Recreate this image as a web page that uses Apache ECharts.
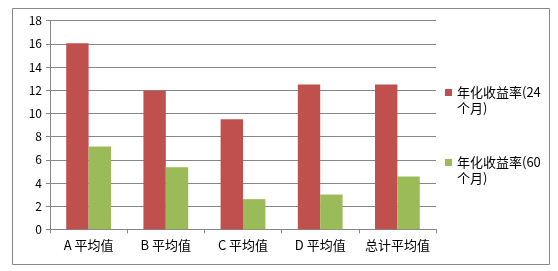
<!DOCTYPE html>
<html>
<head>
<meta charset="utf-8">
<script src="https://cdn.jsdelivr.net/npm/echarts@6/dist/echarts.min.js"></script>
<style>
html,body{margin:0;padding:0;background:#fff;}
#main{width:558px;height:271px;}
</style>
</head>
<body>
<div id="main"></div>
<script>
const categories = ['A 平均值', 'B 平均值', 'C 平均值', 'D 平均值', '总计平均值'];
const seriesNames = ['年化收益率(24个月)', '年化收益率(60个月)'];
const legendLabels = ['年化收益率(24\n个月)', '年化收益率(60\n个月)'];
const values24 = [16.05, 11.95, 9.5, 12.5, 12.5];
const values60 = [7.15, 5.35, 2.6, 3.0, 4.55];
const yTicks = { min: 0, max: 18, interval: 2 };

const font = '"Noto Sans CJK SC", "Noto Sans", sans-serif';
const chart = echarts.init(document.getElementById('main'), null, { renderer: 'canvas' });
const legendIcon = 'path://M0,0h7v7h-7z M0,23 L7,23';
chart.setOption({
  animation: false,
  backgroundColor: '#fff',
  textStyle: { fontFamily: font },
  graphic: [{
    type: 'rect',
    shape: { x: 12.5, y: 8.5, width: 537, height: 256 },
    style: { fill: 'none', stroke: '#868686', lineWidth: 1 },
    silent: true
  }],
  grid: { left: 50, right: 122, top: 20.7, bottom: 41.7, containLabel: false },
  legend: {
    orient: 'vertical',
    left: 445,
    top: 84.5,
    padding: 0,
    itemGap: 38,
    itemWidth: 7,
    itemHeight: 23,
    icon: legendIcon,
    data: seriesNames,
    formatter: function (name) { return legendLabels[seriesNames.indexOf(name)]; },
    textStyle: { fontSize: 13, lineHeight: 16, color: '#000', fontFamily: font }
  },
  xAxis: {
    type: 'category',
    data: categories,
    axisLine: { lineStyle: { color: '#868686', width: 1 } },
    axisTick: { show: true, alignWithLabel: false, length: 4, lineStyle: { color: '#868686' } },
    axisLabel: { color: '#000', fontSize: 13, margin: 9, fontFamily: font, interval: 0 },
    splitLine: { show: false }
  },
  yAxis: {
    type: 'value',
    min: yTicks.min,
    max: yTicks.max,
    interval: yTicks.interval,
    axisLine: { show: true, lineStyle: { color: '#868686', width: 1 } },
    axisTick: { show: true, length: 4, lineStyle: { color: '#868686' } },
    axisLabel: { color: '#000', fontSize: 12, margin: 8, fontFamily: font },
    splitLine: { show: true, lineStyle: { color: '#868686', width: 1 } }
  },
  series: [
    {
      name: seriesNames[0],
      type: 'bar',
      data: values24,
      barWidth: '29%',
      barGap: '0%',
      itemStyle: { color: '#C0504D' }
    },
    {
      name: seriesNames[1],
      type: 'bar',
      data: values60,
      barWidth: '29%',
      barGap: '0%',
      itemStyle: { color: '#9BBB59' }
    }
  ]
});
</script>
</body>
</html>
